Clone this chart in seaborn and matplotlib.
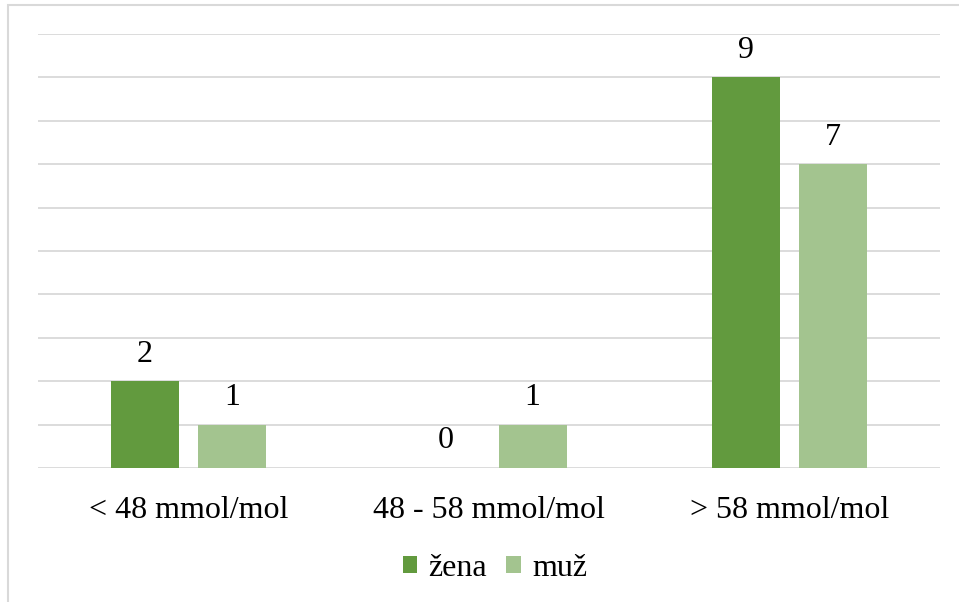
import matplotlib
matplotlib.use("Agg")
import matplotlib.pyplot as plt
import pandas as pd
import seaborn as sns
from matplotlib.patches import Rectangle

categories = ["< 48 mmol/mol", "48 - 58 mmol/mol", "> 58 mmol/mol"]
series_names = ["žena", "muž"]
zena = [2, 0, 9]
muz = [1, 1, 7]
colors = ["#629a3e", "#a3c48f"]

df = pd.DataFrame({
    "kategorie": categories * 2,
    "pohlavi": [series_names[0]] * 3 + [series_names[1]] * 3,
    "pocet": zena + muz,
})

sns.set_theme(style="white")
plt.rcParams["font.family"] = ["Liberation Serif", "DejaVu Serif"]
plt.rcParams["text.color"] = "#000000"

fig = plt.figure(figsize=(9.59, 6.02), dpi=100)
ax = fig.add_axes([38 / 959, 1 - 468 / 602, (940 - 38) / 959, (468 - 34) / 602])

sns.barplot(data=df, x="kategorie", y="pocet", hue="pohlavi",
            palette=colors, width=0.58, gap=0.22, saturation=1,
            linewidth=0, edgecolor="none",
            order=categories, hue_order=series_names, ax=ax, legend=False)

ax.set_ylim(0, 10)
ax.set_xlim(-0.5, 2.5)
ax.set_yticks(range(0, 11))
ax.yaxis.grid(True, color="#d9d9d9", linewidth=1.3)
ax.set_axisbelow(True)
ax.tick_params(axis="y", left=False, labelleft=False)
ax.tick_params(axis="x", bottom=False, labelsize=23, pad=14, colors="#000000")
for s in ax.spines.values():
    s.set_visible(False)
ax.set_xlabel("")
ax.set_ylabel("")

for cont in ax.containers:
    ax.bar_label(cont, fmt="%d", padding=9, fontsize=23, color="#000000")

handles = [Rectangle((0, 0), 1, 1, facecolor=c, edgecolor="none") for c in colors]
leg = fig.legend(handles, series_names, loc="center", bbox_to_anchor=(495 / 959, 1 - 568 / 602),
                 ncol=2, frameon=False, fontsize=23, handlelength=0.45, handleheight=0.45,
                 handletextpad=0.35, columnspacing=0.6, labelcolor="#000000")

# outer frame of the chart
fig.add_artist(Rectangle((8 / 959, -0.05), 1.1, 1 - 5 / 602 + 0.05,
                         transform=fig.transFigure, fill=False,
                         edgecolor="#d9d9d9", linewidth=1.5))

fig.savefig("out.png", dpi=100, facecolor="white")
